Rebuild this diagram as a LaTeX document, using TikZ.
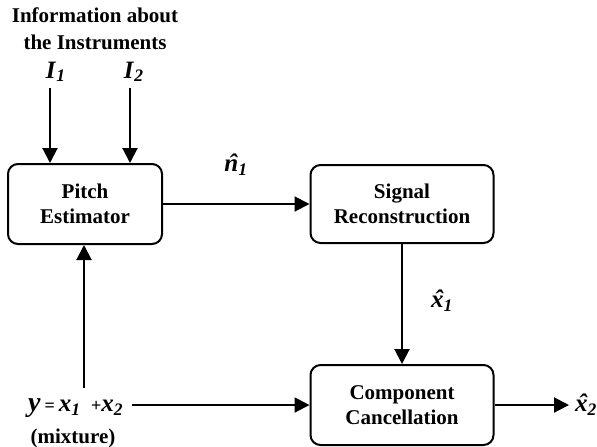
\documentclass[tikz,border=0pt]{standalone}
\usepackage{fontspec}
\setmainfont{Liberation Serif}
\usetikzlibrary{arrows.meta}
\newcommand{\bv}[1]{\textbf{\textit{#1}}}
\newcommand{\Sig}[2]{\bv{#1}\textsubscript{\bv{#2}}}
\newcommand{\HSig}[2]{\ooalign{\bv{#1}\cr\hidewidth\kern0.15em\bv{\char"02C6}\hidewidth\cr}\textsubscript{\bv{#2}}}

\begin{document}
\begin{tikzpicture}[x=0.5pt,y=-0.5pt,line width=1pt,
  >={Triangle[length=7.5pt,width=7.5pt]},
  block/.style={draw,rounded corners=5pt,align=center,inner sep=0pt,
    font=\bfseries\fontsize{10.5}{12.5}\selectfont},
  lbl/.style={font=\bfseries\fontsize{10.5}{13.5}\selectfont,align=center,inner sep=0pt},
  sig/.style={font=\fontsize{12.5}{14}\selectfont,inner sep=0pt}]
\useasboundingbox (0,0) rectangle (597,446);

\node[block,minimum width=77pt,minimum height=40pt] (pitch) at (85,204) {Pitch\\Estimator};
\node[block,minimum width=91.5pt,minimum height=39pt] (recon) at (402,204) {Signal\\Reconstruction};
\node[block,minimum width=91.5pt,minimum height=40pt] (cancel) at (402,405) {Component\\Cancellation};

\node[lbl] (info) at (95,29) {Information about\\the Instruments};
\node[sig] (I1) at (56,72) {\Sig{I}{1}};
\node[sig] (I2) at (134,72) {\Sig{I}{2}};
\coordinate (I1-in) at (50,88);
\coordinate (I2-in) at (130,88);

\node[sig,anchor=west] (mix) at (27,408) {{\fontsize{14}{14}\selectfont\bv{y}}\hspace{2pt}{\small\textbf{=}}\hspace{2pt}\Sig{x}{1}\hspace{5pt}{\small\textbf{+}}\Sig{x}{2}};
\node[lbl] (mixture) at (73,438) {(mixture)};
\coordinate (mix-up) at (84,388);
\coordinate (mix-out) at (132,405);
\coordinate (out) at (569,405);
\node[sig,anchor=west] (x2hat) at (574,408) {\HSig{x}{2}};

\draw[->] (I1-in) -- (I1-in |- pitch.north);
\draw[->] (I2-in) -- (I2-in |- pitch.north);
\draw[->] (mix-up) -- (mix-up |- pitch.south);
\path[->] (pitch) edge node[sig,above=14pt] {\HSig{n}{1}} (recon);
\path[->] (recon) edge node[sig,right=14pt] {\HSig{x}{1}} (cancel);
\draw[->] (mix-out) -- (cancel.west);
\draw[->] (cancel.east) -- (out);
\end{tikzpicture}
\end{document}
